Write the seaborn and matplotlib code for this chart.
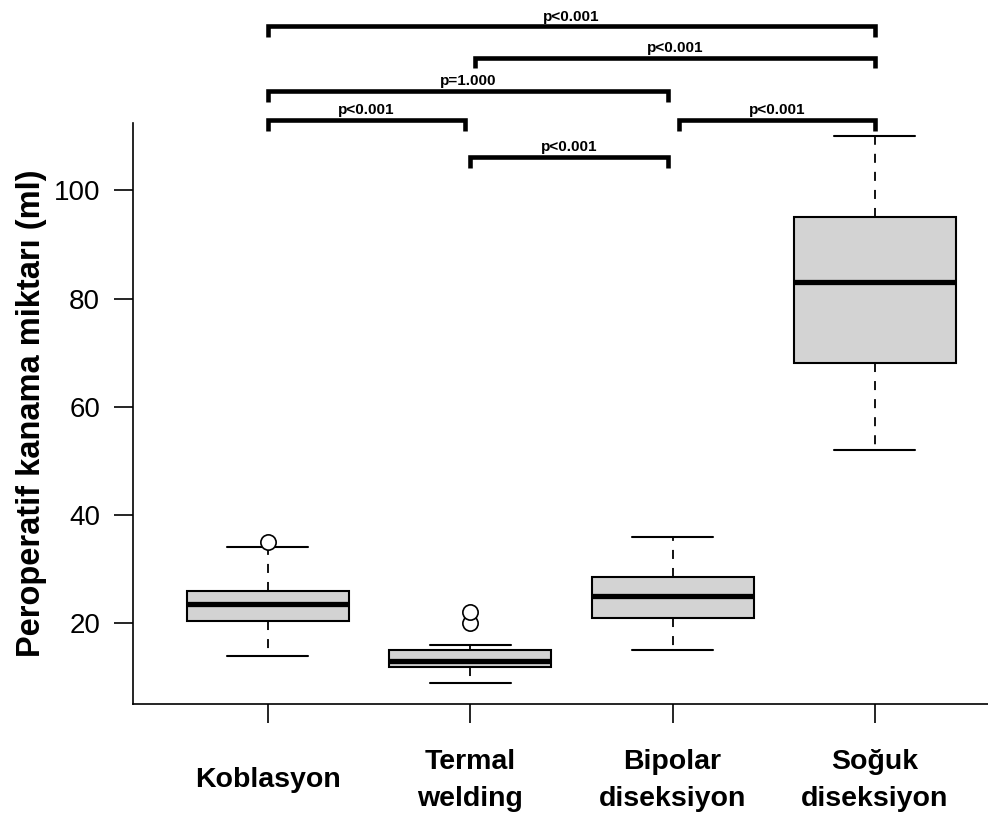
import matplotlib
matplotlib.use("Agg")
import matplotlib.pyplot as plt
import pandas as pd
import seaborn as sns

# Group names (x axis)
GROUPS = ["Koblasyon", "Termal\nwelding", "Bipolar\ndiseksiyon", "Soğuk\ndiseksiyon"]

# Bleeding amounts (ml) per group
KOBLASYON = [14, 20.5, 20.5, 23.5, 23.5, 23.5, 26, 34, 35]
TERMAL = [9, 12, 12, 12, 13, 13, 13, 13, 15, 15, 16, 20, 22]
BIPOLAR = [15, 21, 25, 28.5, 36]
SOGUK = [52, 68, 83, 95, 110]

# Pairwise comparisons: (group a, group b, p label)
PAIRS = [(0, 3), (1, 3), (0, 2), (0, 1), (2, 3), (1, 2)]
P_LABELS = ["p<0.001", "p<0.001", "p=1.000", "p<0.001", "p<0.001", "p<0.001"]

YTICKS = [20, 40, 60, 80, 100]

# Layout of the brackets (data units)
BRACKET_Y = [130.3, 124.5, 118.4, 113.0, 113.0, 106.2]
BRACKET_SHIFT = [(0.0, 0.0), (0.025, 0.0), (0.0, -0.025), (0.0, -0.025), (0.03, 0.0), (0.0, -0.025)]
LEG = 2.0

BOX_FILL = "#D3D3D3"
INK = "black"

sns.set_theme(style="ticks", rc={"text.color": INK, "axes.labelcolor": INK})
plt.rcParams["font.family"] = ["Liberation Sans", "DejaVu Sans"]

df = pd.DataFrame({
    "group": [GROUPS[0]] * len(KOBLASYON) + [GROUPS[1]] * len(TERMAL)
    + [GROUPS[2]] * len(BIPOLAR) + [GROUPS[3]] * len(SOGUK),
    "value": KOBLASYON + TERMAL + BIPOLAR + SOGUK,
})

fig = plt.figure(figsize=(9.88, 8.14), dpi=100)
ax = fig.add_axes([0.1346, 0.1351, 0.8654, 0.7138])

sns.boxplot(
    data=df, x="group", y="value", order=GROUPS, ax=ax,
    color=BOX_FILL, saturation=1, linecolor=INK, width=0.8, whis=1.5,
    boxprops=dict(linewidth=1.5, edgecolor=INK),
    medianprops=dict(linewidth=3.8, color=INK, solid_capstyle="butt"),
    whiskerprops=dict(linewidth=1.3, color=INK, linestyle=(0, (5, 5))),
    capprops=dict(linewidth=1.5, color=INK),
    flierprops=dict(marker="o", markerfacecolor="white", markeredgecolor=INK,
                    markersize=11, markeredgewidth=1.2),
)

ax.set_xlim(-0.667, 3.559)
ax.set_ylim(5.08, 112.43)
ax.set_yticks(YTICKS)
ax.set_xlabel("")
ax.set_ylabel("Peroperatif kanama miktarı (ml)", fontsize=23.5, fontweight="bold", color=INK)
ax.yaxis.set_label_coords(-0.1006, 0.5)

sns.despine(ax=ax)
for side in ["left", "bottom"]:
    ax.spines[side].set_linewidth(1.2)
    ax.spines[side].set_color(INK)

ax.tick_params(axis="y", length=13.7, width=1.2, pad=10, labelsize=20, colors=INK)
ax.tick_params(axis="x", length=13.7, width=1.2, pad=41, labelsize=20.5, colors=INK)
for lab in ax.get_xticklabels():
    lab.set_fontweight("bold")
    lab.set_va("center")
    lab.set_multialignment("center")
    lab.set_linespacing(1.55)

# Significance brackets
for (a, b), label, y, (da, db) in zip(PAIRS, P_LABELS, BRACKET_Y, BRACKET_SHIFT):
    x0, x1 = a + da, b + db
    ax.plot([x0, x0, x1, x1], [y - LEG, y, y, y - LEG], color=INK, lw=3.3,
            solid_joinstyle="miter", solid_capstyle="butt", clip_on=False)
    ax.annotate(label, xy=((x0 + x1) / 2, y), xytext=(0, 1.8), textcoords="offset points",
                ha="center", va="bottom", fontsize=11, fontweight="bold", color=INK,
                annotation_clip=False)

fig.savefig("out.png", dpi=100)
